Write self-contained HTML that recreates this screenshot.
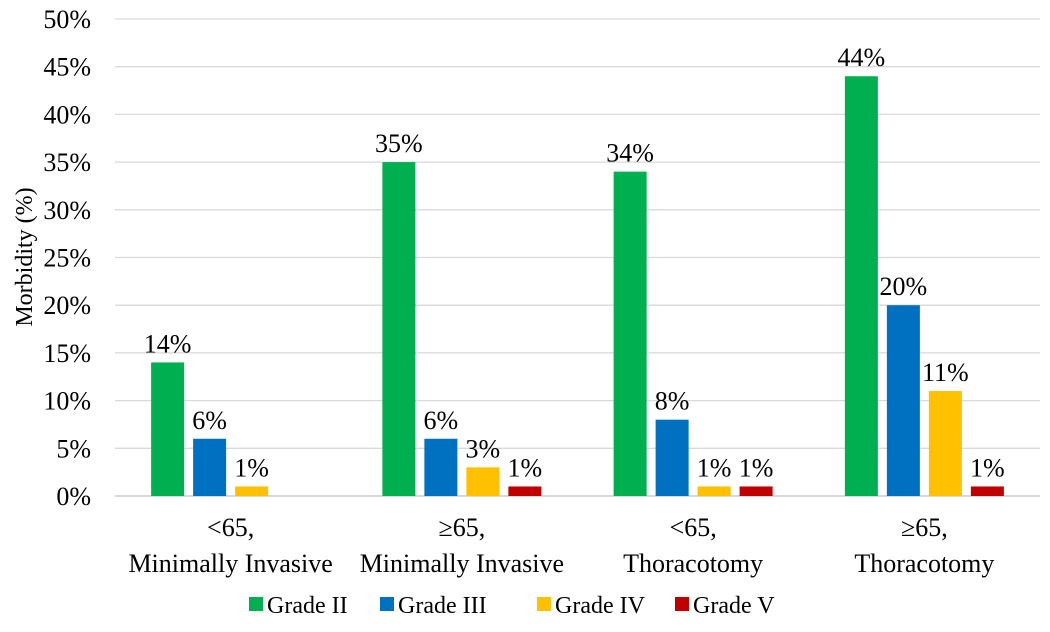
<!DOCTYPE html>
<html><head><meta charset="utf-8"><style>
body{margin:0;background:#fff;}
svg text{font-family:"Liberation Serif",serif;fill:#000;}
</style></head><body>
<svg id="chart" width="1050" height="627" xmlns="http://www.w3.org/2000/svg">
<g id="grid"></g>
<g id="yticks"></g>
<text transform="translate(32,257) rotate(-90)" text-anchor="middle" font-size="24">Morbidity (%)</text>
<g id="bars"></g>
<g id="cats"></g>
<g id="legend"></g>
</svg>
<script>
const categories1 = ["<65,", "\u226565,", "<65,", "\u226565,"];
const categories2 = ["Minimally Invasive", "Minimally Invasive", "Thoracotomy", "Thoracotomy"];
const seriesNames = ["Grade II", "Grade III", "Grade IV", "Grade V"];
const seriesColors = ["#00b050", "#0070c0", "#ffc000", "#c00000"];
const gradeII = [14, 35, 34, 44];
const gradeIII = [6, 6, 8, 20];
const gradeIV = [1, 3, 1, 11];
const gradeV = [0, 1, 1, 1];
const yTicks = [0, 5, 10, 15, 20, 25, 30, 35, 40, 45, 50];

const series = [gradeII, gradeIII, gradeIV, gradeV];
const NS = "http://www.w3.org/2000/svg";
const left = 115, right = 1040, y0 = 496, y50 = 19;
const yScale = v => y0 - (v / 50) * (y0 - y50);
const groupW = (right - left) / categories1.length;
const barW = 33, barStep = 42;
const xBar = (g, s) => left + groupW * g + groupW / 2 - (barStep * 3 + barW) / 2 + s * barStep;
function mk(tag, attrs, parent, text){
  const e = document.createElementNS(NS, tag);
  for (const k in attrs) e.setAttribute(k, attrs[k]);
  if (text !== undefined) e.textContent = text;
  parent.appendChild(e);
  return e;
}
const grid = document.getElementById('grid'), yt = document.getElementById('yticks');
yTicks.forEach(t => {
  const y = yScale(t);
  const l = mk('line', {x1: left, x2: right, y1: y, y2: y, stroke: t === 0 ? '#bfbfbf' : '#d9d9d9', 'stroke-width': 1.3}, grid);
  
  
  const tx = mk('text', {x: 91, y: y + 9, 'text-anchor': 'end', 'font-size': 26}, yt, t + '%');
  
  
});
const bars = document.getElementById('bars');
series.forEach((vals, s) => {
  vals.forEach((v, g) => {
    if (v <= 0) return;
    const x = xBar(g, s), y = yScale(v);
    const r = mk('rect', {x: x, y: y, width: barW, height: y0 - y, fill: seriesColors[s]}, bars);
    
    
    const t = mk('text', {x: x + barW / 2, y: y - 10, 'text-anchor': 'middle', 'font-size': 26}, bars, v + '%');
    
    
  });
});
const cats = document.getElementById('cats');
categories1.forEach((c, g) => {
  const cx = left + groupW * g + groupW / 2;
  const a = mk('text', {x: cx, y: 536, 'text-anchor': 'middle', 'font-size': 26}, cats, c);
  
  
  const b = mk('text', {x: cx, y: 572, 'text-anchor': 'middle', 'font-size': 26}, cats, categories2[g]);
  
  
});
const legend = document.getElementById('legend');
const legX = [249, 380, 537, 675];
seriesNames.forEach((n, i) => {
  const g = mk('g', {}, legend);
  
  
  mk('rect', {x: legX[i], y: 597, width: 14, height: 14, fill: seriesColors[i]}, g);
  mk('text', {x: legX[i] + 18, y: 613, 'font-size': 24}, g, n);
});
</script>
</body></html>
